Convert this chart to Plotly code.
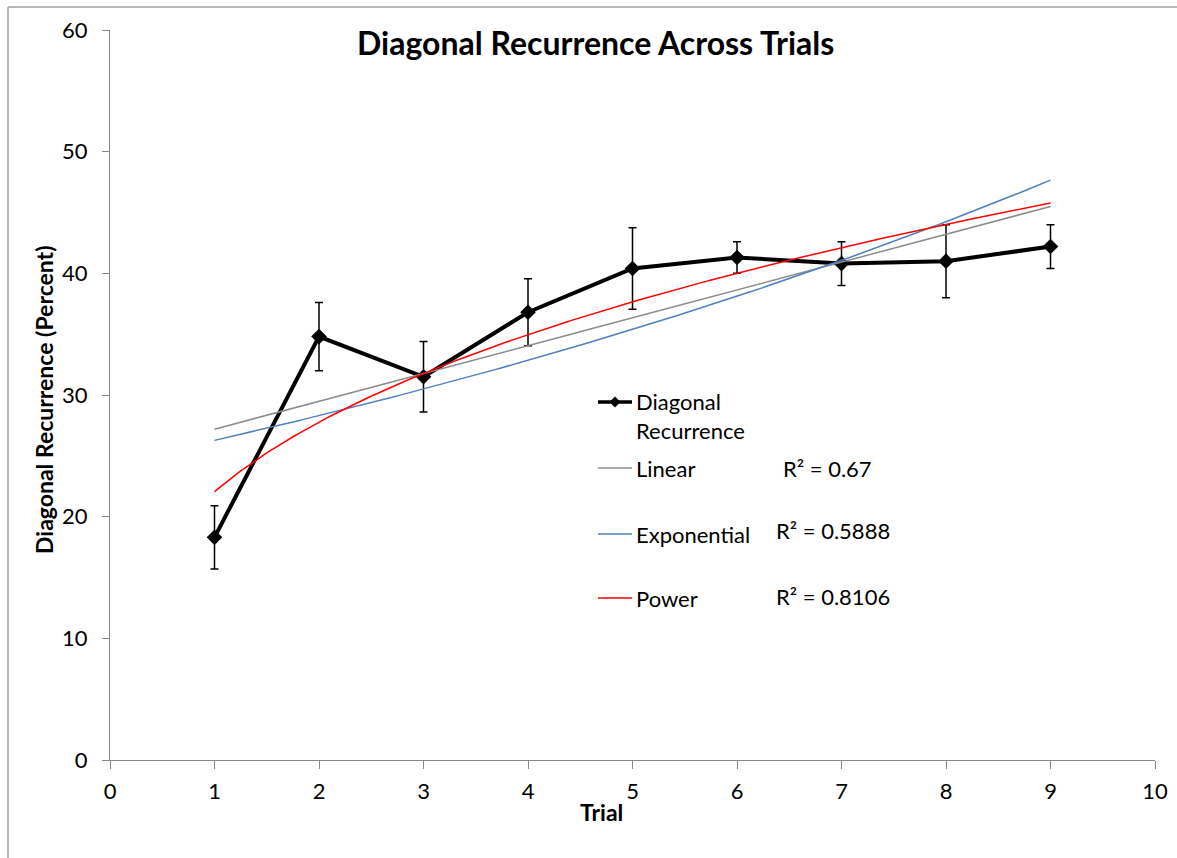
import numpy as np
import plotly.graph_objects as go

# Mean diagonal recurrence per trial, with error-bar half widths
trials = [1, 2, 3, 4, 5, 6, 7, 8, 9]
recurrence = [18.3, 34.8, 31.5, 36.8, 40.4, 41.3, 40.8, 41.0, 42.2]
err = [2.6, 2.8, 2.9, 2.75, 3.35, 1.3, 1.8, 3.0, 1.8]

x_ticks = [0, 1, 2, 3, 4, 5, 6, 7, 8, 9, 10]
y_ticks = [0, 10, 20, 30, 40, 50, 60]

trend_names = ["Linear", "Exponential", "Power"]
trend_colors = ["#8c8c8c", "#4f81bd", "#ff0000"]
r2_labels = ["R² = 0.67", "R² = 0.5888", "R² = 0.8106"]

FONT = "Lato, Carlito, Calibri, sans-serif"
AXIS_GREY = "#888888"
TXT = 22

# plot-area geometry in pixels (used to place legend items in paper units)
W, H = 1177, 858
L, R, T, B = 110, 22, 30, 98
PW, PH = W - L - R, H - T - B


def px(x):
    return (x - L) / PW


def py(y):
    return (H - B - y) / PH


# trendline fits (least squares, exponential/power fitted in log space)
xa = np.array(trials, dtype=float)
ya = np.array(recurrence, dtype=float)
xs = np.linspace(1, 9, 200)
m, c = np.polyfit(xa, ya, 1)
lin = m * xs + c
be, ae = np.polyfit(xa, np.log(ya), 1)
expo = np.exp(ae) * np.exp(be * xs)
bp, ap = np.polyfit(np.log(xa), np.log(ya), 1)
powr = np.exp(ap) * xs ** bp
trend_values = [lin, expo, powr]

fig = go.Figure()

fig.add_trace(go.Scatter(
    x=trials, y=recurrence, mode="lines+markers", name="Diagonal Recurrence",
    line=dict(color="black", width=4),
    marker=dict(symbol="diamond", size=12, color="black"),
    error_y=dict(type="data", array=err, visible=True, color="black",
                 thickness=1.5, width=4),
    showlegend=False,
))

for name, color, vals in zip(trend_names, trend_colors, trend_values):
    fig.add_trace(go.Scatter(
        x=xs, y=vals, mode="lines", name=name,
        line=dict(color=color, width=1.5), showlegend=False,
    ))

shapes = []
annotations = []

# legend entries
leg_x0, leg_x1, leg_text_x = 598, 632, 634
shapes.append(dict(type="line", xref="paper", yref="paper",
                   x0=px(leg_x0), x1=px(leg_x1), y0=py(402), y1=py(402),
                   line=dict(color="black", width=3.5)))
dcx, dcy, d = 615, 402, 5.5
shapes.append(dict(type="path", xref="paper", yref="paper",
                   path=f"M {px(dcx - d)} {py(dcy)} L {px(dcx)} {py(dcy - d)} "
                        f"L {px(dcx + d)} {py(dcy)} L {px(dcx)} {py(dcy + d)} Z",
                   fillcolor="black", line=dict(color="black", width=0)))
annotations.append(dict(xref="paper", yref="paper", x=px(leg_text_x), y=py(416),
                        xanchor="left", yanchor="middle", align="left",
                        text="Diagonal<br>Recurrence", showarrow=False,
                        font=dict(family=FONT, size=TXT, color="black")))

legend_rows = [468, 534, 598]
r2_x = [781, 774, 774]
r2_y = [468, 530, 596]
for name, color, ly, rx, ry, rtxt in zip(trend_names, trend_colors,
                                          legend_rows, r2_x, r2_y, r2_labels):
    shapes.append(dict(type="line", xref="paper", yref="paper",
                       x0=px(leg_x0), x1=px(leg_x1), y0=py(ly), y1=py(ly),
                       line=dict(color=color, width=1.5)))
    annotations.append(dict(xref="paper", yref="paper", x=px(leg_text_x), y=py(ly),
                            xanchor="left", yanchor="middle", text=name,
                            showarrow=False,
                            font=dict(family=FONT, size=TXT, color="black")))
    annotations.append(dict(xref="paper", yref="paper", x=px(rx), y=py(ry),
                            xanchor="left", yanchor="middle", text=rtxt,
                            showarrow=False,
                            font=dict(family=FONT, size=TXT, color="black")))

# chart title and axis titles
annotations.append(dict(xref="paper", yref="paper", x=px(595), y=py(43),
                        xanchor="center", yanchor="middle",
                        text="<b>Diagonal Recurrence Across Trials</b>",
                        showarrow=False,
                        font=dict(family=FONT, size=32, color="black")))
annotations.append(dict(xref="paper", yref="paper", x=px(601), y=py(812),
                        xanchor="center", yanchor="middle", text="<b>Trial</b>",
                        showarrow=False,
                        font=dict(family=FONT, size=23, color="black")))
annotations.append(dict(xref="paper", yref="paper", x=px(44), y=py(400),
                        xanchor="center", yanchor="middle", textangle=-90,
                        text="<b>Diagonal Recurrence (Percent)</b>",
                        showarrow=False,
                        font=dict(family=FONT, size=23, color="black")))

# outer chart frame
shapes.append(dict(type="line", xref="paper", yref="paper",
                   x0=px(8), x1=px(8), y0=py(7), y1=py(H + 20),
                   line=dict(color="#a0a0a0", width=1.5)))
shapes.append(dict(type="line", xref="paper", yref="paper",
                   x0=px(8), x1=px(W + 20), y0=py(7), y1=py(7),
                   line=dict(color="#a0a0a0", width=1.5)))

fig.update_layout(
    width=W, height=H,
    margin=dict(l=L, r=R, t=T, b=B),
    paper_bgcolor="white", plot_bgcolor="white",
    font=dict(family=FONT, size=22, color="black"),
    shapes=shapes, annotations=annotations,
    showlegend=False,
)
fig.update_xaxes(range=[0, 10], tickvals=x_ticks, ticktext=[str(v) for v in x_ticks],
                 showgrid=False, zeroline=False, showline=True, automargin=False,
                 linecolor=AXIS_GREY, linewidth=1, ticks="outside", ticklen=8,
                 tickcolor=AXIS_GREY, tickwidth=1, ticklabelstandoff=4,
                 tickfont=dict(family=FONT, size=22, color="black"))
fig.update_yaxes(range=[0, 60], tickvals=y_ticks, ticktext=[str(v) for v in y_ticks],
                 showgrid=False, zeroline=False, showline=True, automargin=False,
                 linecolor=AXIS_GREY, linewidth=1, ticks="outside", ticklen=7,
                 tickcolor=AXIS_GREY, tickwidth=1, ticklabelstandoff=10,
                 tickfont=dict(family=FONT, size=22, color="black"))

fig.write_html("out.html")
